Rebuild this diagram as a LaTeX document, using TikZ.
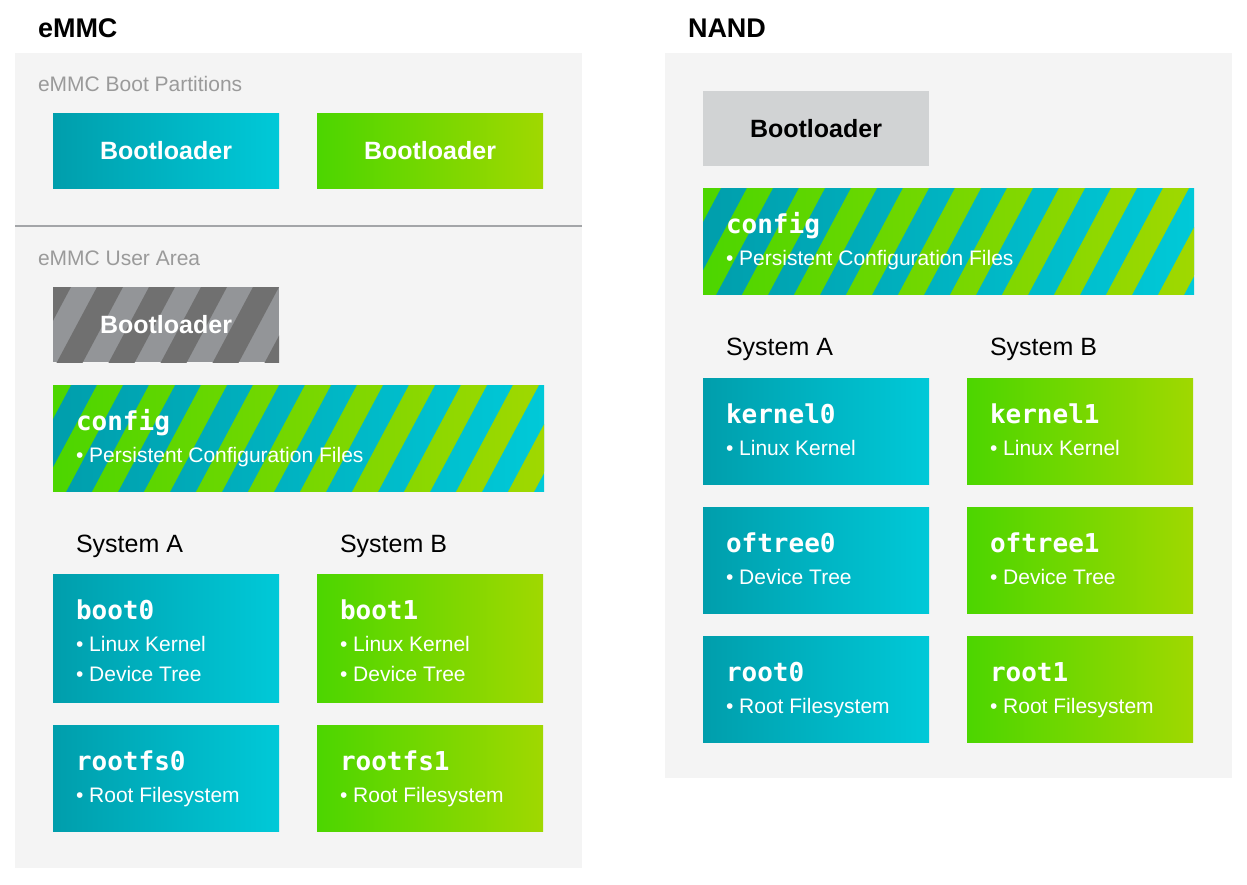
\documentclass[tikz,border=0pt]{standalone}
\usepackage{fontspec}
\setmainfont{Liberation Sans}
\newfontfamily\codefont{DejaVu Sans Mono}
\usepackage{tikz}
\usetikzlibrary{positioning}
\definecolor{panelgray}{HTML}{F4F4F4}
\definecolor{labelgray}{HTML}{9A9A9A}
\definecolor{sepgray}{HTML}{A3A5A8}
\definecolor{cyanL}{HTML}{009EAC}
\definecolor{cyanR}{HTML}{00C9D8}
\definecolor{greenL}{HTML}{4CD600}
\definecolor{greenR}{HTML}{A0D800}
\definecolor{stripedark}{HTML}{707070}
\definecolor{stripelight}{HTML}{939598}
\definecolor{nandgray}{HTML}{D1D3D4}
\tikzset{
  stripefill/.style 2 args={path picture={
      \foreach \k in {0,...,11} {
        \begin{scope}
          \clip ([xshift=\k*52pt-8pt]path picture bounding box.north west) -- ++(26pt,0pt)
            -- ++(-64pt,-120pt) -- ++(-26pt,0pt) -- cycle;
          \shade[left color=#1, right color=#2] (path picture bounding box.north west)
            rectangle (path picture bounding box.south east);
        \end{scope}}}}
}

\begin{document}
\begin{tikzpicture}[x=1pt,y=-1pt,
    every node/.style={inner sep=0pt, outer sep=0pt},
    panel/.style={fill=panelgray, anchor=north west, minimum width=567pt},
    part/.style={anchor=north west, minimum width=226pt, minimum height=106pt},
    cyanpart/.style={part, left color=cyanL, right color=cyanR},
    greenpart/.style={part, left color=greenL, right color=greenR},
    bootpart/.style={minimum height=75pt, text=white, font=\fontsize{25}{25}\selectfont\bfseries},
    widepart/.style={minimum width=491pt},
    title/.style={anchor=base west, font=\fontsize{27}{27}\selectfont\bfseries},
    area/.style={anchor=base west, text=labelgray, font=\fontsize{21}{21}\selectfont},
    sys/.style={anchor=base west, font=\fontsize{25}{25}\selectfont},
    pname/.style={anchor=base west, text=white, font=\fontsize{26}{26}\codefont\bfseries},
    pitem/.style={anchor=base west, text=white, font=\fontsize{21}{21}\selectfont}]

  \path[use as bounding box, fill=white] (0,0) rectangle (1247,884);

  % eMMC
  \node[title] (emmctitle) at (38,37.5) {eMMC};
  \node[panel, minimum height=815pt] (emmc) at (15,53) {};
  \draw[sepgray, line width=1.5pt] (15,226) -- (582,226);
  \node[area] (bootarea) at (38,91) {eMMC Boot Partitions};
  \node[cyanpart, bootpart] (blA) at (53,113) {Bootloader};
  \node[greenpart, bootpart, right=38pt of blA] (blB) {Bootloader};
  \node[area] (userarea) at (38,265) {eMMC User Area};
  \node[part, bootpart, fill=stripelight, stripefill={stripedark}{stripedark}] (blold) at (53,287) {Bootloader};
  \node[part, widepart, left color=cyanL, right color=cyanR, stripefill={greenL}{greenR},
        below=23pt of blold.south west, anchor=north west] (cfgemmc) {};
  \node[sys] (sysA) at (76,552) {System A};
  \node[sys] (sysB) at (340,552) {System B};
  \node[cyanpart, minimum height=128pt] (boot0) at (53,574) {};
  \node[greenpart, minimum height=128pt, right=38pt of boot0] (boot1) {};
  \node[cyanpart, below=23pt of boot0] (rootfs0) {};
  \node[greenpart, right=38pt of rootfs0] (rootfs1) {};

  % NAND
  \node[title] (nandtitle) at (688,37.5) {NAND};
  \node[panel, minimum height=725pt] (nand) at (665,53) {};
  \node[part, bootpart, fill=nandgray, text=black] (blnand) at (703,91) {Bootloader};
  \node[part, widepart, left color=cyanL, right color=cyanR, stripefill={greenL}{greenR},
        below=22pt of blnand.south west, anchor=north west] (cfgnand) {};
  \node[sys] (nsysA) at (726,355) {System A};
  \node[sys] (nsysB) at (990,355) {System B};
  \node[cyanpart] (kernel0) at (703,378) {};
  \node[greenpart, right=38pt of kernel0] (kernel1) {};
  \node[cyanpart, below=23pt of kernel0] (oftree0) {};
  \node[greenpart, right=38pt of oftree0] (oftree1) {};
  \node[cyanpart, below=23pt of oftree0] (root0) {};
  \node[greenpart, right=38pt of root0] (root1) {};

  % partition names and contents
  \foreach \p/\n in {cfgemmc/config, boot0/boot0, boot1/boot1, rootfs0/rootfs0, rootfs1/rootfs1,
      cfgnand/config, kernel0/kernel0, kernel1/kernel1, oftree0/oftree0, oftree1/oftree1,
      root0/root0, root1/root1}
    \node[pname] (\p-name) at ([shift={(23,45)}]\p.north west) {\n};
  \foreach \p/\i/\t in {cfgemmc/1/Persistent Configuration Files, boot0/1/Linux Kernel,
      boot0/2/Device Tree, boot1/1/Linux Kernel, boot1/2/Device Tree,
      rootfs0/1/Root Filesystem, rootfs1/1/Root Filesystem,
      cfgnand/1/Persistent Configuration Files, kernel0/1/Linux Kernel, kernel1/1/Linux Kernel,
      oftree0/1/Device Tree, oftree1/1/Device Tree, root0/1/Root Filesystem, root1/1/Root Filesystem}
    \node[pitem] (\p-item\i) at ([shift={(23,47+30*\i)}]\p.north west) {• \t};
\end{tikzpicture}
\end{document}
